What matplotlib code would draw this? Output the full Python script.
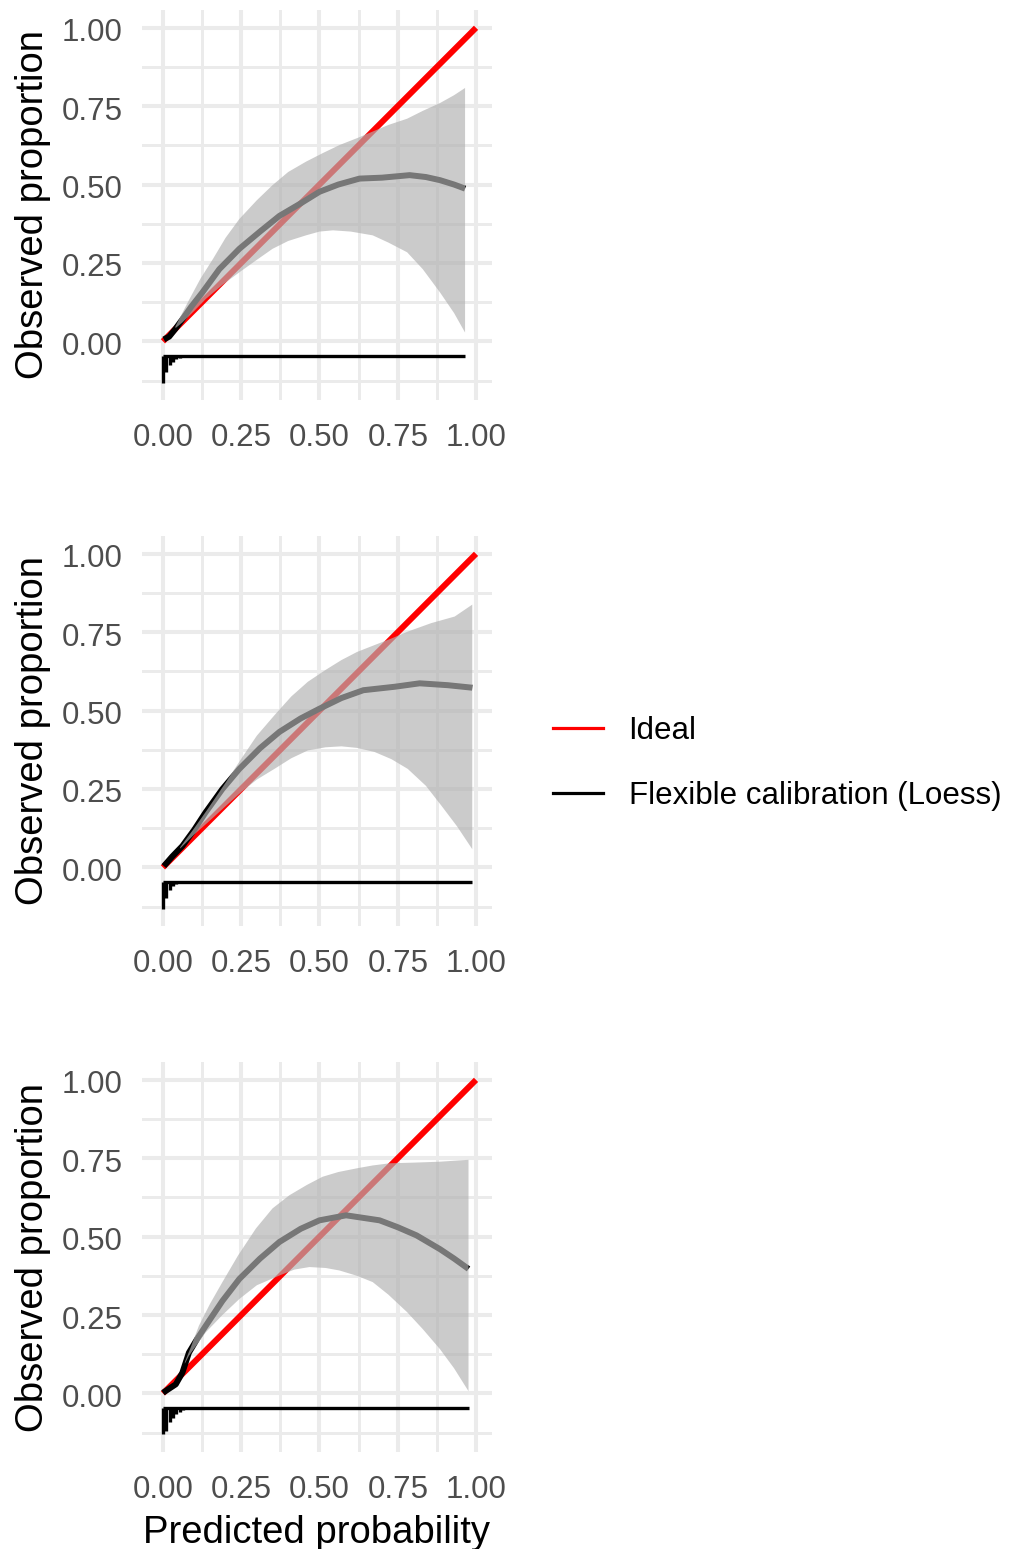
import numpy as np
import matplotlib
matplotlib.use("Agg")
import matplotlib.pyplot as plt
from matplotlib.lines import Line2D
from matplotlib.transforms import ScaledTranslation

plt.rcParams['font.family'] = ['Liberation Sans', 'DejaVu Sans']

# ---- data (three calibration panels) ----
# loess curve
p1_cx = [0.003, 0.02, 0.04, 0.062, 0.09, 0.126, 0.18, 0.244, 0.31, 0.372, 0.44, 0.5,
         0.56, 0.628, 0.7, 0.788, 0.84, 0.885, 0.93, 0.965]
p1_cy = [0.006, 0.015, 0.04, 0.07, 0.11, 0.156, 0.23, 0.295, 0.35, 0.40, 0.44, 0.477,
         0.50, 0.519, 0.522, 0.53, 0.524, 0.514, 0.50, 0.487]
# confidence band (upper / lower edges)
p1_ux = [0.04, 0.085, 0.12, 0.16, 0.2, 0.244, 0.3, 0.35, 0.4, 0.457, 0.51, 0.564, 0.62,
         0.67, 0.72, 0.78, 0.83, 0.885, 0.93, 0.965]
p1_uy = [0.048, 0.135, 0.20, 0.263, 0.33, 0.39, 0.45, 0.498, 0.54, 0.573, 0.60, 0.626,
         0.648, 0.669, 0.69, 0.71, 0.735, 0.76, 0.785, 0.808]
p1_lx = [0.04, 0.062, 0.1, 0.137, 0.19, 0.244, 0.3, 0.35, 0.4, 0.457, 0.5, 0.543, 0.6,
         0.67, 0.72, 0.78, 0.83, 0.885, 0.93, 0.965]
p1_ly = [0.042, 0.06, 0.097, 0.135, 0.18, 0.22, 0.26, 0.295, 0.32, 0.338, 0.35, 0.354,
         0.35, 0.338, 0.315, 0.284, 0.23, 0.156, 0.09, 0.028]

p2_cx = [0.003, 0.03, 0.062, 0.1, 0.136, 0.19, 0.244, 0.31, 0.372, 0.44, 0.5, 0.57,
         0.64, 0.74, 0.82, 0.91, 0.988]
p2_cy = [0.004, 0.035, 0.068, 0.12, 0.175, 0.25, 0.314, 0.38, 0.432, 0.475, 0.506, 0.54,
         0.565, 0.576, 0.587, 0.581, 0.573]
p2_ux = [0.055, 0.1, 0.143, 0.2, 0.25, 0.3, 0.356, 0.41, 0.463, 0.52, 0.57, 0.62, 0.676,
         0.73, 0.782, 0.857, 0.932, 0.988]
p2_uy = [0.064, 0.125, 0.186, 0.27, 0.346, 0.42, 0.485, 0.545, 0.592, 0.63, 0.661, 0.687,
         0.709, 0.73, 0.752, 0.779, 0.80, 0.838]
p2_lx = [0.055, 0.1, 0.143, 0.2, 0.25, 0.3, 0.356, 0.41, 0.463, 0.52, 0.57, 0.62, 0.676,
         0.73, 0.782, 0.84, 0.89, 0.94, 0.988]
p2_ly = [0.06, 0.105, 0.143, 0.195, 0.24, 0.28, 0.314, 0.348, 0.373, 0.383, 0.386, 0.381,
         0.368, 0.345, 0.314, 0.26, 0.196, 0.13, 0.058]

p3_cx = [0.0, 0.041, 0.062, 0.083, 0.11, 0.137, 0.19, 0.244, 0.31, 0.372, 0.44, 0.5,
         0.585, 0.692, 0.75, 0.81, 0.885, 0.93, 0.976]
p3_cy = [0.002, 0.029, 0.066, 0.13, 0.175, 0.216, 0.295, 0.365, 0.43, 0.483, 0.525, 0.552,
         0.568, 0.552, 0.53, 0.504, 0.46, 0.43, 0.397]
p3_ux = [0.07, 0.09, 0.115, 0.15, 0.19, 0.24, 0.297, 0.35, 0.404, 0.46, 0.51, 0.56, 0.62,
         0.67, 0.725, 0.8, 0.885, 0.976]
p3_uy = [0.10, 0.15, 0.216, 0.285, 0.355, 0.44, 0.526, 0.59, 0.632, 0.665, 0.691, 0.706,
         0.718, 0.727, 0.734, 0.736, 0.739, 0.745]
p3_lx = [0.07, 0.083, 0.137, 0.19, 0.244, 0.3, 0.372, 0.42, 0.468, 0.52, 0.564, 0.62,
         0.67, 0.72, 0.78, 0.83, 0.885, 0.93, 0.976]
p3_ly = [0.095, 0.12, 0.195, 0.25, 0.301, 0.345, 0.376, 0.395, 0.403, 0.4, 0.392, 0.375,
         0.355, 0.315, 0.259, 0.205, 0.141, 0.08, 0.007]

# spike histogram of predictions (below the curve)
spike_x = [0.0, 0.0107, 0.0214, 0.0321, 0.0428, 0.0535, 0.0642, 0.0749]
p1_spk = [0.085, 0.05, 0.03, 0.018, 0.01, 0.006, 0.003, 0.001]
p2_spk = [0.085, 0.05, 0.025, 0.012, 0.006, 0.003, 0.001, 0.0]
p3_spk = [0.083, 0.073, 0.045, 0.03, 0.019, 0.012, 0.005, 0.003]

ideal = [0.0, 1.0]
ticks = [0.0, 0.25, 0.5, 0.75, 1.0]
tick_labels = ["0.00", "0.25", "0.50", "0.75", "1.00"]
minor = [-0.125, 0.125, 0.375, 0.625, 0.875]

panels = [
    (p1_cx, p1_cy, p1_ux, p1_uy, p1_lx, p1_ly, p1_spk),
    (p2_cx, p2_cy, p2_ux, p2_uy, p2_lx, p2_ly, p2_spk),
    (p3_cx, p3_cy, p3_ux, p3_uy, p3_lx, p3_ly, p3_spk),
]

fig = plt.figure(figsize=(10.09, 15.49), dpi=100)
bottoms = [0.7418, 0.4022, 0.0626]
base_y = -0.047
nudge = ScaledTranslation(0, -2 / 100, fig.dpi_scale_trans)

for i, (cx, cy, ux, uy, lx, ly, spk) in enumerate(panels):
    ax = fig.add_axes([0.1407, bottoms[i], 0.3469, 0.2518])
    ax.set_xlim(-0.067, 1.051)
    ax.set_ylim(-0.187, 1.057)
    for s in ax.spines.values():
        s.set_visible(False)

    # grid
    ax.set_xticks(ticks)
    ax.set_yticks(ticks)
    ax.set_xticks([0.125, 0.375, 0.625, 0.875], minor=True)
    ax.set_yticks(minor, minor=True)
    ax.grid(which='major', color='#ebebeb', lw=2.9)
    ax.grid(which='minor', color='#ebebeb', lw=2.1)
    ax.set_axisbelow(True)
    ax.tick_params(which='both', length=0)
    ax.tick_params(axis='y', pad=14, labelsize=22.5, labelcolor='#4d4d4d')
    ax.tick_params(axis='x', pad=16.5, labelsize=22.5, labelcolor='#4d4d4d')
    ax.set_xticklabels(tick_labels)
    ax.set_yticklabels(tick_labels)
    for lab in ax.get_yticklabels():
        lab.set_transform(lab.get_transform() + nudge)

    ax.plot(ideal, ideal, color='red', lw=4.3, solid_capstyle='butt', zorder=2)
    ax.plot(cx, cy, color='black', lw=4.3, solid_capstyle='butt',
            solid_joinstyle='round', zorder=3)
    ax.fill(np.r_[ux, lx[::-1]], np.r_[uy, ly[::-1]], color='#b2b2b2', alpha=0.67,
            lw=0, zorder=4)

    # spike histogram
    ax.hlines(base_y, 0, cx[-1], color='black', lw=2.4, zorder=5)
    ax.vlines(spike_x, base_y, [base_y - v for v in spk], color='black', lw=2.4, zorder=5)

    ax.set_ylabel("Observed proportion", fontsize=27.5, va='center')
    ax.yaxis.set_label_coords(-0.31, 0.5)
    if i == 2:
        ax.set_xlabel("Predicted probability", fontsize=27.5, labelpad=7)

handles = [Line2D([], [], color='red', lw=2.3), Line2D([], [], color='black', lw=2.3)]
fig.legend(handles, ["Ideal", "Flexible calibration (Loess)"], loc='center left',
           bbox_to_anchor=(0.548, 0.5074), frameon=False, fontsize=22.5,
           handlelength=1.6, handletextpad=0.82, labelspacing=1.12,
           borderpad=0, borderaxespad=0)

fig.savefig("out.png", dpi=100)
